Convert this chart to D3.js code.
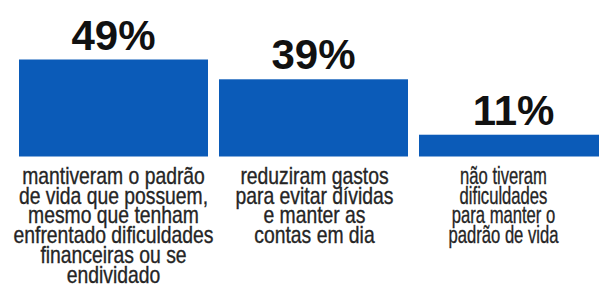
<!DOCTYPE html>
<html>
<head>
<meta charset="utf-8">
<script src="https://cdn.jsdelivr.net/npm/d3@7"></script>
<style>
  html, body { margin: 0; padding: 0; background: #ffffff; }
  svg { display: block; }
</style>
</head>
<body>
<svg id="chart" width="599" height="296"></svg>
<script>
// ---- data ----
const categories = ["a", "b", "c"];
const values = [49, 39, 11];
const valueLabels = ["49%", "39%", "11%"];
const categoryLines = [
  ["mantiveram o padrão", "de vida que possuem,", "mesmo que tenham", "enfrentado dificuldades", "financeiras ou se", "endividado"],
  ["reduziram gastos", "para evitar dívidas", "e manter as", "contas em dia"],
  ["não tiveram", "dificuldades", "para manter o", "padrão de vida"]
];

// ---- layout ----
const svg = d3.select("#chart");
const barColor = "#0b5bb8";
const fontFam = "'Liberation Sans', Arial, Helvetica, sans-serif";

const x = d3.scaleBand()
  .domain(categories)
  .range([19, 608])
  .paddingInner(0.055)
  .paddingOuter(0);

const y = d3.scaleLinear()
  .domain([0, 49])
  .range([156.5, 59.5]);

// bars
svg.append("g")
  .selectAll("rect")
  .data(categories)
  .join("rect")
  .attr("x", d => x(d))
  .attr("width", x.bandwidth())
  .attr("y", (d, i) => y(values[i]))
  .attr("height", (d, i) => y(0) - y(values[i]))
  .attr("fill", barColor);

// value labels
svg.append("g")
  .selectAll("text")
  .data(categories)
  .join("text")
  .attr("x", d => x(d) + x.bandwidth() / 2)
  .attr("y", (d, i) => y(values[i]) - 10)
  .attr("text-anchor", "middle")
  .attr("font-family", fontFam)
  .attr("font-weight", "bold")
  .attr("font-size", 42)
  .attr("fill", "#111")
  .text((d, i) => valueLabels[i]);

// category labels (condensed)
const labelOffsets = [0, 1, -10];
const blockSquash = [1, 1, 0.86];
const fontSize = 24;
const lineH = 19.8;
const firstBaseline = 183.8;

const groups = svg.append("g")
  .selectAll("g")
  .data(categories)
  .join("g");

groups.each(function(d, i) {
  const g = d3.select(this);
  const t = g.append("text")
    .attr("text-anchor", "middle")
    .attr("font-family", fontFam)
    .attr("font-size", fontSize)
    .attr("fill", "#252525")
    .attr("stroke", "#252525")
    .attr("stroke-width", 0.35);
  categoryLines[i].forEach((ln, j) => {
    t.append("tspan")
      .attr("x", 0)
      .attr("y", firstBaseline + j * lineH)
      .text(ln);
  });
});

// condensation factor from the longest line of the first block
const probe = svg.append("text")
  .attr("font-family", fontFam)
  .attr("font-size", fontSize)
  .text(categoryLines[0][3]);
const natural = probe.node().getComputedTextLength();
probe.remove();
const k = 200 / natural;

groups.attr("transform", (d, i) => {
  const cx = x(d) + x.bandwidth() / 2 + labelOffsets[i];
  return `translate(${cx},0) scale(${k * blockSquash[i]},1)`;
});
</script>
</body>
</html>
